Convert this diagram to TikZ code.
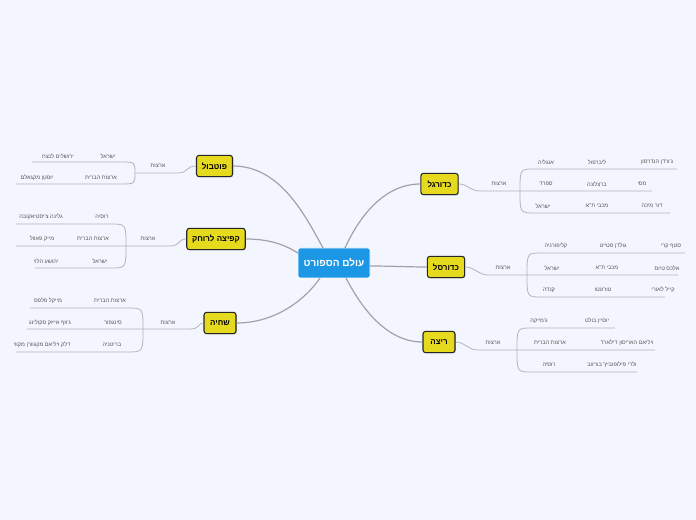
\documentclass[tikz,border=0pt]{standalone}
\usepackage{fontspec}
\setmainfont{Liberation Sans}
\newfontfamily\hebfont[Script=Hebrew]{Liberation Sans}
\TeXXeTstate=1
\usetikzlibrary{shadows}
\newcommand{\hh}[1]{{\hebfont\beginR #1\endR}}
\definecolor{bg}{HTML}{F3F6FE}
\definecolor{cblue}{HTML}{1B97E6}
\definecolor{ylw}{HTML}{E6DA1E}
\definecolor{ln}{HTML}{B4B4B8}
\definecolor{tx}{HTML}{555555}
\tikzset{
 main/.style={fill=cblue,draw=white,line width=0.6pt,rounded corners=1.5pt,text=white,font=\fontsize{7.5}{8}\selectfont\bfseries,minimum width=54pt,minimum height=22.5pt},
 br/.style={fill=ylw,draw=black!85,line width=0.8pt,rounded corners=2pt,font=\fontsize{6}{7}\selectfont\bfseries,minimum height=16pt,inner xsep=4pt,drop shadow={opacity=0.35,shadow xshift=0.6pt,shadow yshift=-0.6pt}},
 lbl/.style={font=\fontsize{4.2}{5}\selectfont,text=tx,inner sep=0pt},
 big/.style={draw=ln!90!black,line width=0.9pt},
 sub/.style={draw=ln,line width=0.6pt},
}
\begin{document}
\begin{tikzpicture}[x=0.75pt,y=-0.75pt]
\fill[bg] (0,0) rectangle (696,520);
\useasboundingbox (0,0) rectangle (696,520);
% central
\node[main] (c) at (334,263) {\hh{עולם הספורט}};
\node[br,minimum width=27pt] (fb) at (214.5,166) {\hh{פוטבול}};
\node[br,minimum width=42pt] (lj) at (216,239) {\hh{קפיצה לרוחק}};
\node[br,minimum width=24pt] (sw) at (220,323) {\hh{שחיה}};
\node[br,minimum width=28pt] (fo) at (439.5,184) {\hh{כדורגל}};
\node[br,minimum width=28pt] (bk) at (446,267) {\hh{כדורסל}};
\node[br,minimum width=24pt] (rn) at (439,342) {\hh{ריצה}};
\coordinate (c1) at (323,248); \coordinate (c2) at (298,253); \coordinate (c3) at (320,278);
\coordinate (c4) at (345,248); \coordinate (c5) at (370,266); \coordinate (c6) at (346,278);
\draw[big] (c1) .. controls (305,215) and (280,166) .. (fb.east);
\draw[big] (c2) .. controls (285,245) and (270,239) .. (lj.east);
\draw[big] (c3) .. controls (305,300) and (275,323) .. (sw.east);
\draw[big] (c4) .. controls (360,215) and (385,184) .. (fo.west);
\draw[big] (c5) .. controls (390,266) and (410,267) .. (bk.west);
\draw[big] (c6) .. controls (360,305) and (385,342) .. (rn.west);

% ---------- left: פוטבול
\node[lbl] (fba) at (158,166) {\hh{ארצות}};
\coordinate (fbj) at (135,173);
\draw[sub] (fb.west) .. controls (186,166) and (188,173) .. (178,173) -- (fbj);
\coordinate (fbr1) at (32,162); \coordinate (fbr2) at (16,184);
\draw[sub] (fbj) .. controls (135,162) .. (120,162) -- (fbr1);
\draw[sub] (fbj) .. controls (135,184) .. (120,184) -- (fbr2);
\node[lbl] at (108,156) {\hh{ישראל}};
\node[lbl] at (58,156) {\hh{ירושלים לנצח}};
\node[lbl] at (101,178) {\hh{ארצות הברית}};
\node[lbl] at (37,178) {\hh{יוסטן מקגאלם}};

% ---------- left: קפיצה לרוחק
\node[lbl] (lja) at (148,239) {\hh{ארצות}};
\coordinate (ljj) at (126,246); \coordinate (ljr2) at (16,246);
\draw[sub] (lj.west) .. controls (178,239) and (180,246) .. (170,246) -- (ljr2);
\coordinate (ljr1) at (16,224); \coordinate (ljr3) at (35,268);
\draw[sub] (ljj) .. controls (126,224) .. (110,224) -- (ljr1);
\draw[sub] (ljj) .. controls (126,268) .. (110,268) -- (ljr3);
\node[lbl] at (102,217) {\hh{רוסיה}};
\node[lbl] at (41,217) {\hh{גלינה צ'יסטיאקובה}};
\node[lbl] at (93,239) {\hh{ארצות הברית}};
\node[lbl] at (42,239) {\hh{מייק פאוול}};
\node[lbl] at (100,261) {\hh{ישראל}};
\node[lbl] at (46,261) {\hh{יהושע הלוי}};

% ---------- left: שחיה
\node[lbl] (swa) at (168,323) {\hh{ארצות}};
\coordinate (swj) at (143,329); \coordinate (swr2) at (27,329);
\draw[sub] (sw.west) .. controls (198,323) and (200,329) .. (190,329) -- (swr2);
\coordinate (swr1) at (30,308); \coordinate (swr3) at (16,352);
\draw[sub] (swj) .. controls (143,308) .. (127,308) -- (swr1);
\draw[sub] (swj) .. controls (143,352) .. (127,352) -- (swr3);
\node[lbl] at (110,301) {\hh{ארצות הברית}};
\node[lbl] at (48,301) {\hh{מייקל פלפס}};
\node[lbl] at (113,323) {\hh{סינגפור}};
\node[lbl] at (50,323) {\hh{ג'וזף אייזק סקולינג}};
\node[lbl] at (112,345) {\hh{בריטניה}};
\node[lbl] at (42,345) {\hh{דלק ויליאם מקגוורן מקווי}};

% ---------- right: כדורגל
\node[lbl] (foa) at (499,184) {\hh{ארצות}};
\coordinate (foj) at (520,191); \coordinate (for2) at (652,191);
\draw[sub] (fo.east) .. controls (468,184) and (470,191) .. (480,191) -- (for2);
\coordinate (for1) at (677,169); \coordinate (for3) at (670,213);
\draw[sub] (foj) .. controls (520,169) .. (535,169) -- (for1);
\draw[sub] (foj) .. controls (520,213) .. (535,213) -- (for3);
\node[lbl] at (546,162) {\hh{אנגליה}};
\node[lbl] at (597,162) {\hh{ליברפול}};
\node[lbl] at (657,162) {\hh{ג'ורדן הנדרסון}};
\node[lbl] at (546,184) {\hh{ספרד}};
\node[lbl] at (597,184) {\hh{ברצלונה}};
\node[lbl] at (642,184) {\hh{מסי}};
\node[lbl] at (543,206) {\hh{ישראל}};
\node[lbl] at (597,206) {\hh{מכבי ת"א}};
\node[lbl] at (652,206) {\hh{דור מיכה}};

% ---------- right: כדורסל
\node[lbl] (bka) at (503,268) {\hh{ארצות}};
\coordinate (bkj) at (527,275); \coordinate (bkr2) at (678,275);
\draw[sub] (bk.east) .. controls (475,267) and (478,275) .. (488,275) -- (bkr2);
\coordinate (bkr1) at (685,253); \coordinate (bkr3) at (665,297);
\draw[sub] (bkj) .. controls (527,253) .. (542,253) -- (bkr1);
\draw[sub] (bkj) .. controls (527,297) .. (542,297) -- (bkr3);
\node[lbl] at (556,246) {\hh{קליפורניה}};
\node[lbl] at (613,246) {\hh{גולדן סטייט}};
\node[lbl] at (671,246) {\hh{סטף קרי}};
\node[lbl] at (552,268) {\hh{ישראל}};
\node[lbl] at (607,268) {\hh{מכבי ת"א}};
\node[lbl] at (667,268) {\hh{אלכס טיוס}};
\node[lbl] at (549,290) {\hh{קנדה}};
\node[lbl] at (603,290) {\hh{טורונטו}};
\node[lbl] at (663,290) {\hh{קייל לאורי}};

% ---------- right: ריצה
\node[lbl] (rna) at (493,343) {\hh{ארצות}};
\coordinate (rnj) at (517,350); \coordinate (rnr2) at (655,350);
\draw[sub] (rn.east) .. controls (465,342) and (468,350) .. (478,350) -- (rnr2);
\coordinate (rnr1) at (615,328); \coordinate (rnr3) at (637,372);
\draw[sub] (rnj) .. controls (517,328) .. (532,328) -- (rnr1);
\draw[sub] (rnj) .. controls (517,372) .. (532,372) -- (rnr3);
\node[lbl] at (539,321) {\hh{ג'מייקה}};
\node[lbl] at (597,321) {\hh{יוסיין בולט}};
\node[lbl] at (550,343) {\hh{ארצות הברית}};
\node[lbl] at (627,343) {\hh{ויליאם האריסון דילארד}};
\node[lbl] at (549,365) {\hh{רוסיה}};
\node[lbl] at (612,365) {\hh{ולרי פילופוביץ' בורזוב}};
\end{tikzpicture}
\end{document}
